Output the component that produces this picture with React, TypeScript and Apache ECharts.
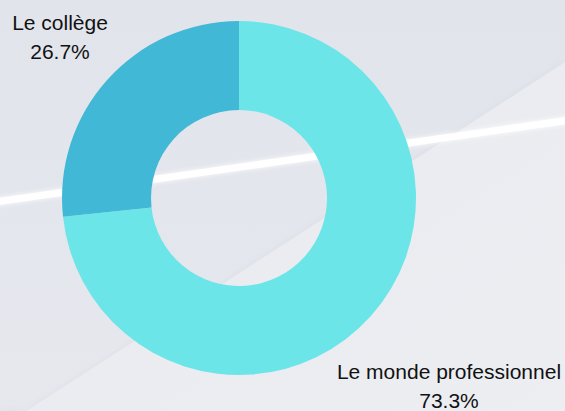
import React, { useEffect, useRef } from "react";
import * as echarts from "echarts";

const categories: string[] = ["Le monde professionnel", "Le collège"];
const percentages: number[] = [73.3, 26.7];
const sliceColors: string[] = ["#6ce5e8", "#41b8d5"];

// label anchor points (centre of each label block), in px
const labelAnchors: [number, number][] = [
  [449, 386],
  [60, 37],
];

export default function App() {
  const ref = useRef<HTMLDivElement>(null);

  useEffect(() => {
    if (!ref.current) return;
    const chart = echarts.init(ref.current, undefined, { renderer: "svg" });
    const W = 565;
    const H = 411;
    chart.setOption({
      animation: false,
      backgroundColor: {
        type: "linear",
        x: 0,
        y: 0,
        x2: 0,
        y2: 1,
        colorStops: [
          { offset: 0, color: "#e1e4eb" },
          { offset: 1, color: "#e6e8ee" },
        ],
      },
      graphic: [
        {
          type: "polygon",
          silent: true,
          z: -10,
          shape: {
            points: [
              [0, 428],
              [W, 62],
              [W, H],
              [0, H],
            ],
          },
          style: {
            fill: {
              type: "linear",
              x: 0,
              y: 0,
              x2: 1,
              y2: 1,
              colorStops: [
                { offset: 0, color: "#e8eaef" },
                { offset: 1, color: "#eceef2" },
              ],
            },
            shadowBlur: 6,
            shadowColor: "rgba(205,209,220,0.45)",
          },
        },
        {
          type: "line",
          silent: true,
          z: -5,
          shape: { x1: -5, y1: 202, x2: W + 5, y2: 120 },
          style: {
            stroke: "rgba(255,255,255,0.97)",
            lineWidth: 7,
            shadowBlur: 5,
            shadowColor: "rgba(255,255,255,0.9)",
          },
        },
      ],
      series: [
        {
          type: "pie",
          center: [239, 198],
          radius: [88, 177],
          startAngle: 90,
          clockwise: true,
          silent: true,
          data: categories.map((name, i) => ({
            name,
            value: percentages[i],
            itemStyle: { color: sliceColors[i] },
          })),
          label: {
            show: true,
            position: "outside",
            overflow: "none",
            formatter: (p: any) => `${p.name}\n${p.value.toFixed(1)}%`,
            fontFamily: "Liberation Sans, Arial, sans-serif",
            fontSize: 21,
            lineHeight: 29,
            color: "#111",
          },
          labelLine: { show: false },
          labelLayout: (params: any) => {
            const a = labelAnchors[params.dataIndex];
            return { x: a[0], y: a[1], align: "center", verticalAlign: "middle" };
          },
        },
      ],
    });
    return () => chart.dispose();
  }, []);

  return (
    <div
      ref={ref}
      style={{ position: "fixed", left: 0, top: 0, width: 565, height: 411 }}
    />
  );
}
